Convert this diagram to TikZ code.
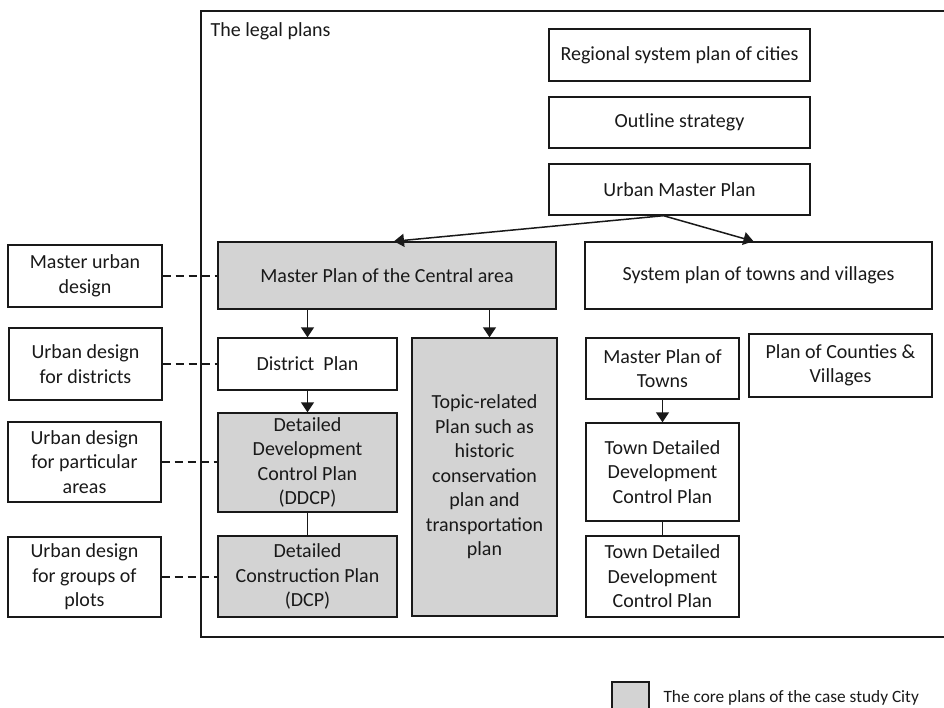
\documentclass[tikz,border=0pt]{standalone}
\usepackage{fontspec}
\setmainfont{Carlito}
\usetikzlibrary{arrows.meta,calc}
\definecolor{coregray}{RGB}{211,211,211}
\definecolor{inkcol}{RGB}{25,25,25}
\begin{document}
\begin{tikzpicture}[x=1pt,y=-1pt,
  every node/.style={text=inkcol},
  plan/.style={draw=inkcol, line width=1.4pt, align=center, inner sep=0pt,
    font=\fontsize{20}{24.5}\selectfont},
  core/.style={plan, fill=coregray},
  arr/.style={draw=inkcol, line width=1.5pt, -{Triangle[length=10pt,width=13pt]}},
  link/.style={draw=inkcol, line width=1.5pt},
  dashlink/.style={draw=inkcol, line width=1.4pt, dash pattern=on 8pt off 5pt}]
\useasboundingbox (0,0) rectangle (944,707);

% frame of the legal plans (open to the right)
\draw[inkcol, line width=1.3pt] (944,11) -- (201,11) -- (201,637) -- (944,637);
\node[anchor=base west, font=\fontsize{20}{24.5}\selectfont] (title) at (207,36) {The legal plans};

% upper chain
\node[plan, minimum width=261pt, minimum height=52pt] (rsp) at (679.5,55) {Regional system plan of cities};
\node[plan, minimum width=261pt, minimum height=51pt] (os)  at (679.5,122.5) {Outline strategy};
\node[plan, minimum width=261pt, minimum height=51pt] (ump) at (679.5,189.5) {Urban Master Plan};

% second level
\node[core, minimum width=338pt, minimum height=67pt] (mpc) at (387,275.5) {Master Plan of the Central area};
\node[plan, minimum width=347pt, minimum height=67pt] (spt) at (758.5,275.5) {System plan of towns and villages};

% central area branch
\node[plan, minimum width=179pt, minimum height=52pt] (dp)   at (307.5,364) {District\ \ Plan};
\node[core, minimum width=179pt, minimum height=99pt] (ddcp) at (307.5,462.5) {Detailed\\Development\\Control Plan\\(DDCP)};
\node[core, minimum width=179pt, minimum height=81pt] (dcp)  at (307.5,576.5) {Detailed\\Construction Plan\\(DCP)};
\node[core, minimum width=145pt, minimum height=278pt] (trp) at (484.5,477) {Topic-related\\Plan such as\\historic\\conservation\\plan and\\transportation\\plan};

% towns and villages branch
\node[plan, minimum width=153pt, minimum height=61pt] (mpt) at (662.5,368.5) {Master Plan of\\Towns};
\node[plan, minimum width=183pt, minimum height=63pt] (pcv) at (840.5,365.5) {Plan of Counties \&\\Villages};
\node[plan, minimum width=153pt, minimum height=98pt] (tda) at (662.5,472) {Town Detailed\\Development\\Control Plan};
\node[plan, minimum width=153pt, minimum height=81pt] (tdb) at (662.5,576.5) {Town Detailed\\Development\\Control Plan};

% urban design counterparts
\node[plan, minimum width=154pt, minimum height=62pt] (ud1) at (85,276) {Master urban\\design};
\node[plan, minimum width=153pt, minimum height=72pt] (ud2) at (85.5,364) {Urban design\\for districts};
\node[plan, minimum width=153pt, minimum height=80pt] (ud3) at (84.5,462) {Urban design\\for particular\\areas};
\node[plan, minimum width=153pt, minimum height=80pt] (ud4) at (84.5,577) {Urban design\\for groups of\\plots};

% legend
\node[core, minimum width=37pt, minimum height=34pt] (key) at (630.5,699) {};
\node[anchor=base west, font=\fontsize{17.3}{21}\selectfont] (keytext) at (660,702) {The core plans of the case study City};

% connectors
\coordinate (umpfoot) at ([xshift=-16pt]ump.south);
\coordinate (mpctop) at ([xshift=7pt]mpc.north);
\coordinate (spttop) at ([xshift=-5pt]spt.north);
\coordinate (trptop) at ([xshift=5pt]trp.north);
\draw[arr] (umpfoot) -- (mpctop);
\draw[arr] (umpfoot) -- (spttop);
\draw[arr] (mpc.south -| dp.north) -- (dp.north);
\draw[arr] (mpc.south -| trptop) -- (trptop);
\draw[arr] (dp.south) -- (ddcp.north);
\draw[link] (ddcp.south) -- (dcp.north);
\draw[arr] (mpt.south) -- (tda.north);
\draw[link] (tda.south) -- (tdb.north);

\draw[dashlink] (ud1.east) -- (ud1.east -| mpc.west);
\draw[dashlink] (ud2.east) -- (ud2.east -| dp.west);
\draw[dashlink] (ud3.east) -- (ud3.east -| ddcp.west);
\draw[dashlink] (ud4.east) -- (ud4.east -| dcp.west);
\end{tikzpicture}
\end{document}
